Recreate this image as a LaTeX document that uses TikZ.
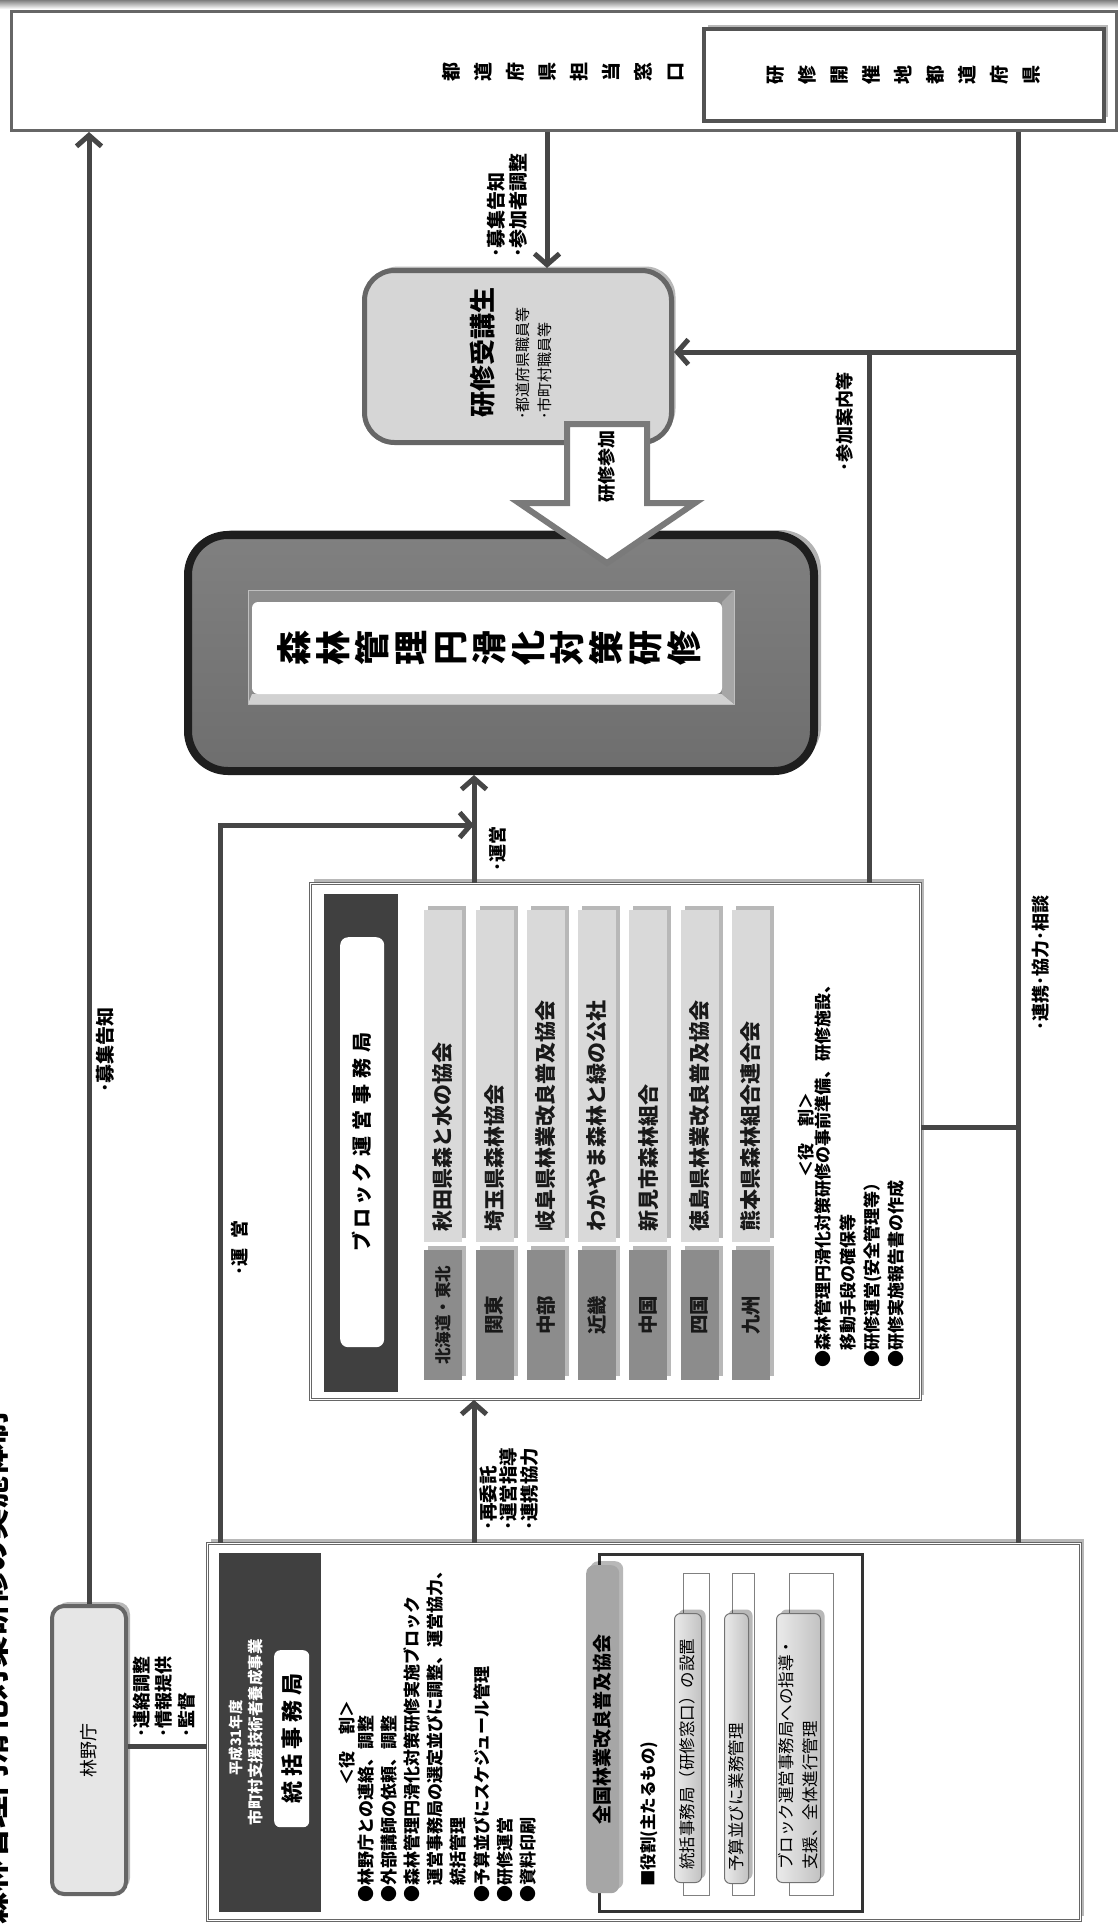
\documentclass[tikz,border=0pt]{standalone}
\usepackage{fontspec}
\setmainfont{Noto Sans CJK JP}
\usetikzlibrary{arrows.meta,shadows,calc}
\definecolor{cline}{HTML}{464646}
\definecolor{bedge}{HTML}{666666}
\definecolor{sfill}{HTML}{D6D6D6}
\definecolor{rfill}{HTML}{E6E6E6}
\definecolor{dhdr}{HTML}{404040}
\definecolor{lbar}{HTML}{D9D9D9}
\definecolor{dbar}{HTML}{8C8C8C}
\definecolor{mfillA}{HTML}{808080}
\definecolor{mfillB}{HTML}{6E6E6E}
\definecolor{medge}{HTML}{1E1E1E}
\definecolor{aedge}{HTML}{7A7A7A}
\definecolor{zhfill}{HTML}{A6A6A6}
\newcommand\fsz[2]{\fontsize{#1}{#2}\selectfont}
\begin{document}
\begin{tikzpicture}[x=1pt,y=-1pt,
  conn/.style={draw=cline, line width=5pt},
  arr/.style={-{Straight Barb[length=11pt,width=25pt]}},
  lbl/.style={rotate=90, inner sep=0pt, align=left, anchor=west, font=\bfseries\fsz{18.5}{22}},
  tate/.style={rotate=90, inner sep=0pt, align=center},
  shd/.style={drop shadow={shadow xshift=4pt, shadow yshift=4pt, opacity=0.28, fill=black}},
  boxnw/.style={anchor=north west, inner sep=0pt},
  dbl/.style={draw=bedge, double=white, double distance=1.6pt, line width=0.9pt, fill=white},
]
\useasboundingbox (0,0) rectangle (1118,1925);
\fill[white] (0,0) rectangle (1118,1925);
\shade[top color=black!50, bottom color=white] (0,0) rectangle (1118,9);

% title at left edge (clipped by the page edge, as in the reference)
\node[rotate=90, anchor=south west, inner sep=0pt, font=\bfseries\fsz{32}{36}] (ttl) at (9,1925) {森林管理円滑化対策研修の実施体制};

% ---------------- boxes ----------------
\node[boxnw, draw=bedge, line width=3pt, fill=white, minimum width=1105pt, minimum height=119pt] (top) at (10,10) {};
\node[boxnw, draw=dhdr!90, line width=4pt, fill=white, minimum width=400pt, minimum height=92pt, shd] (host) at (702,27) {};
\node[tate, font=\bfseries\fsz{19}{32}] (toplbl) at (563,72) {都\\道\\府\\県\\担\\当\\窓\\口};
\node[tate, font=\bfseries\fsz{19}{32}] (hostlbl) at (host.center) {研\\修\\開\\催\\地\\都\\道\\府\\県};

\node[boxnw, draw=bedge, line width=5pt, fill=sfill, rounded corners=30pt, minimum width=307pt, minimum height=172pt, shd] (student) at (362,268) {};
\node[lbl, font=\bfseries\fsz{26}{30}] (stt) at (483,418) {研修受講生};
\node[lbl, font=\fsz{15}{22}] (sts) at (534,420) {･都道府県職員等\\･市町村職員等};

\node[boxnw, draw=medge, line width=8pt, top color=mfillA, bottom color=mfillB, rounded corners=40pt, minimum width=626pt, minimum height=236pt, drop shadow={shadow xshift=7pt, shadow yshift=5pt, opacity=0.3, fill=black}] (main) at (184,531) {};
% bevelled plate
\fill[black!45] (248,590) rectangle (734,704);
\fill[black!18] (248,704) -- (734,704) -- (722,694) -- (252,694) -- cycle;
\fill[black!35] (734,590) -- (734,704) -- (722,694) -- (722,602) -- cycle;
\fill[white, rounded corners=6pt] (252,602) rectangle (722,694);
\draw[black!25, line width=0.8pt] (248,590) rectangle (734,704);
\node[tate, font=\bfseries\fsz{35}{39}] (mainlbl) at (489,648) {森\\林\\管\\理\\円\\滑\\化\\対\\策\\研\\修};

% block office box
\node[boxnw, dbl, minimum width=610pt, minimum height=516pt, shd] (block) at (310,883) {};
\node[boxnw, fill=dhdr, minimum width=74pt, minimum height=498pt] (bhdr) at (324,894) {};
\node[boxnw, fill=white, rounded corners=8pt, minimum width=44pt, minimum height=410pt] (blbl) at (340,937) {};
\node[rotate=90, inner sep=0pt, font=\bfseries\fsz{20}{24}] at (blbl.center) {ブ\kern3ptロ\kern3ptッ\kern3ptク\kern6pt運\kern6pt営\kern6pt事\kern6pt務\kern6pt局};

\foreach \i/\org/\reg/\rs in {0/秋田県森と水の協会/北海道・東北/16.5, 1/埼玉県森林協会/関東/19.5, 2/岐阜県林業改良普及協会/中部/19.5, 3/わかやま森林と緑の公社/近畿/19.5, 4/新見市森林組合/中国/19.5, 5/徳島県林業改良普及協会/四国/19.5, 6/熊本県森林組合連合会/九州/19.5} {
  \pgfmathsetmacro\xl{424+51.3*\i}
  \node[boxnw, fill=lbar, minimum width=38pt, minimum height=332pt, shd] (org\i) at (\xl,910) {};
  \node[boxnw, fill=dbar, minimum width=38pt, minimum height=130pt, shd] (reg\i) at (\xl,1250) {};
  \node[lbl, font=\bfseries\fsz{21}{24}, text=black!90] at (\xl+19,1232) {\org};
  \node[rotate=90, inner sep=0pt, font=\bfseries\fsz{\rs}{22}, text=black!90] at (reg\i.center) {\reg};
}
\node[rotate=90, inner sep=0pt, font=\bfseries\fsz{17}{20}] (brole) at (806,1135) {＜役　割＞};
\node[lbl, font=\bfseries\fsz{17}{24.3}] (broles) at (860,1368) {●森林管理円滑化対策研修の事前準備、研修施設、\\　移動手段の確保等\\●研修運営(安全管理等）\\●研修実施報告書の作成};

% tokatsu box
\node[boxnw, dbl, minimum width=873pt, minimum height=377pt, shd] (tokatsu) at (207,1543) {};
\node[boxnw, fill=dhdr, minimum width=102pt, minimum height=359pt] (thdr) at (219,1553) {};
\node[rotate=90, inner sep=0pt, text=white, font=\bfseries\fsz{14.5}{18}] at (236,1738) {平成31年度};
\node[rotate=90, inner sep=0pt, text=white, font=\bfseries\fsz{15.5}{18}] at (256,1732) {市町村支援技術者養成事業};
\node[boxnw, fill=white, rounded corners=6pt, minimum width=35pt, minimum height=177pt] (tlbl) at (274,1650) {};
\node[rotate=90, inner sep=0pt, font=\bfseries\fsz{22}{24}] at (tlbl.center) {統\kern5pt括\kern5pt事\kern5pt務\kern5pt局};
\node[rotate=90, inner sep=0pt, font=\bfseries\fsz{17}{20}] (trole) at (347,1743) {＜役　割＞};
\node[lbl, font=\bfseries\fsz{17}{23.1}] (troles) at (447,1903) {●林野庁との連絡、調整\\●外部講師の依頼、調整\\●森林管理円滑化対策研修実施ブロック\\　運営事務局の選定並びに調整、運営協力、\\　統括管理\\●予算並びにスケジュール管理\\●研修運営\\●資料印刷};

% zenkoku box
\node[boxnw, draw=black!80, line width=3pt, fill=white, minimum width=263pt, minimum height=357pt] (zen) at (598,1553) {};
\node[boxnw, fill=zhfill, rounded corners=8pt, minimum width=33pt, minimum height=328pt, shd] (zhdr) at (586,1565) {};
\node[rotate=90, inner sep=0pt, font=\bfseries\fsz{19}{22}] at (zhdr.center) {全国林業改良普及協会};
\node[lbl, font=\bfseries\fsz{16.5}{20}] at (649,1887) {■役割(主たるもの)};
\draw[black!50, line width=0.8pt] (683,1573) rectangle (709,1895);
\draw[black!50, line width=0.8pt] (732,1573) rectangle (754,1895);
\draw[black!50, line width=0.8pt] (789,1573) rectangle (833,1895);
\node[boxnw, draw=black!55, line width=1pt, rounded corners=6pt, left color=black!8, right color=black!24, minimum width=27pt, minimum height=269pt, shd] (za) at (674,1613) {};
\node[boxnw, draw=black!55, line width=1pt, rounded corners=6pt, left color=black!8, right color=black!24, minimum width=24pt, minimum height=270pt, shd] (zb) at (724,1613) {};
\node[boxnw, draw=black!55, line width=1pt, rounded corners=6pt, left color=black!8, right color=black!24, minimum width=44pt, minimum height=269pt, shd] (zc) at (776,1613) {};
\node[lbl, font=\fsz{16.5}{24}] at (687,1870) {統括事務局（研修窓口）の設置};
\node[lbl, font=\fsz{16.5}{24}] at (736,1872) {予算並びに業務管理};
\node[lbl, font=\fsz{16.5}{24}] at (798,1870) {ブロック運営事務局への指導・\\支援、全体進行管理};

% rinya
\node[boxnw, draw=bedge, line width=4pt, fill=rfill, rounded corners=12pt, minimum width=74pt, minimum height=288pt, shd] (rinya) at (50,1604) {};
\node[rotate=90, inner sep=0pt, font=\fsz{18}{20}] at (rinya.center) {林野庁};

% ---------------- connectors ----------------
\coordinate (xA) at (547,0);
\coordinate (xR) at (1018,0);
\coordinate (xP) at (869,0);
\coordinate (xU) at (220,0);
\coordinate (xM) at (474,0);
\coordinate (yS) at (0,352);
\coordinate (yF) at (0,1127);
\coordinate (yU) at (0,825);
\coordinate (yL) at (0,1746);

\draw[conn,arr] (rinya.north) -- (rinya.north |- top.south);
\draw[conn,arr] (top.south -| xA) -- (student.north -| xA);
\draw[conn] (top.south -| xR) -- (tokatsu.north -| xR);
\draw[conn,arr] (xR |- yS) -- (student.east |- yS);
\draw[conn] (xP |- yS) -- (block.north -| xP);
\draw[conn] (block.east |- yF) -- (xR |- yF);
\draw[conn,arr] (tokatsu.north -| xU) |- (xM |- yU);
\draw[conn,arr] (block.north -| xM) -- (main.south -| xM);
\draw[conn,arr] (tokatsu.north -| xM) -- (block.south -| xM);
\draw[conn] (rinya.east |- yL) -- (tokatsu.west |- yL);

% connector labels
\node[lbl, font=\bfseries\fsz{19}{22}] at (507,258) {･募集告知\\･参加者調整};
\node[lbl, font=\bfseries\fsz{18}{22}] at (845,472) {･参加案内等};
\node[lbl, font=\bfseries\fsz{18}{22}] at (1041,1031) {･連携･協力･相談};
\node[lbl, font=\bfseries\fsz{18}{22}] at (498,872) {･運営};
\node[lbl, font=\bfseries\fsz{18}{22}] at (240,1276) {･運\kern10pt営};
\node[lbl, font=\bfseries\fsz{18.5}{20.5}] at (509,1531) {･再委託\\･運営指導\\･連携協力};
\node[lbl, font=\bfseries\fsz{18}{22.5}] at (164,1738) {･連絡調整\\･情報提供\\･監督};
\node[lbl, font=\bfseries\fsz{19}{22}] at (105,1093) {･募集告知};

% block arrow 研修参加
\draw[draw=aedge, line width=6pt, fill=white, line join=miter] (567,424) -- (647,424) -- (647,503) -- (695,503) -- (607,563) -- (519,503) -- (567,503) -- cycle;
\node[rotate=90, inner sep=0pt, font=\bfseries\fsz{18}{20}] at (607,466) {研修参加};
\end{tikzpicture}
\end{document}
